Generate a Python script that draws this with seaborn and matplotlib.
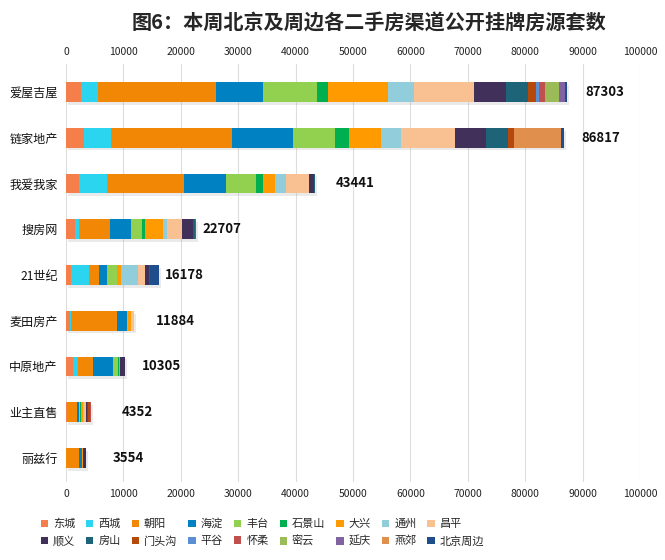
import numpy as np
import pandas as pd
import matplotlib
matplotlib.use('Agg')
import matplotlib.pyplot as plt
import matplotlib.patheffects as pe
from matplotlib.patches import Patch
import seaborn as sns

# Channels (top to bottom) and districts (stack order)
channels = ['爱屋吉屋', '链家地产', '我爱我家', '搜房网', '21世纪', '麦田房产', '中原地产', '业主直售', '丽兹行']
districts = ['东城', '西城', '朝阳', '海淀', '丰台', '石景山', '大兴', '通州', '昌平',
             '顺义', '房山', '门头沟', '平谷', '怀柔', '密云', '延庆', '燕郊', '北京周边']

# listings per district, one list per channel
aiwujiwu = [2610, 3010, 20530, 8190, 9460, 1860, 10500, 4530, 10450, 5520, 3780, 1450, 580, 990, 2440, 1050, 0, 353]
lianjia = [3190, 4650, 21080, 10680, 7320, 2440, 5520, 3540, 9410, 5340, 3890, 1050, 0, 0, 0, 0, 8130, 577]
woaiwojia = [2320, 4760, 13430, 7430, 5110, 1220, 2090, 1920, 4120, 810, 131, 0, 0, 0, 0, 0, 0, 100]
soufang = [1630, 700, 5400, 3660, 1860, 520, 3190, 640, 2670, 1800, 400, 237, 0, 0, 0, 0, 0, 0]
century21 = [870, 3080, 1860, 1390, 1630, 0, 700, 2930, 1280, 700, 170, 0, 0, 0, 0, 0, 0, 1568]
maitian = [750, 100, 7994, 1860, 100, 0, 470, 30, 580, 0, 0, 0, 0, 0, 0, 0, 0, 0]
zhongyuan = [1160, 990, 2490, 3600, 810, 230, 80, 0, 80, 865, 0, 0, 0, 0, 0, 0, 0, 0]
yezhu = [150, 100, 1600, 350, 300, 150, 300, 250, 200, 300, 150, 250, 100, 100, 0, 0, 0, 52]
lizihang = [50, 0, 2300, 450, 50, 0, 60, 0, 0, 500, 0, 0, 0, 0, 0, 0, 0, 144]

colors = ['#F47F4A', '#2BD5F0', '#F28705', '#0081C2', '#92D050', '#00B050', '#FF9A00', '#92CDDC', '#F9C191',
          '#41305A', '#1D6478', '#B5490C', '#5B8ED2', '#C0504D', '#9BBB59', '#8064A2', '#E0904C', '#1F4E8C']

# gap between bar end and total label, in pixels
label_pad_px = [18, 17, 20, 6, 6, 22, 17, 31, 26]

df = pd.DataFrame([aiwujiwu, lianjia, woaiwojia, soufang, century21, maitian, zhongyuan, yezhu, lizihang],
                  index=channels, columns=districts)
cum = df.cumsum(axis=1)
totals = df.sum(axis=1)

sns.set_theme(style='white')
plt.rcParams['font.family'] = ['Noto Sans CJK SC', 'DejaVu Sans']

fig = plt.figure(figsize=(6.65, 5.6), dpi=100)
ax = fig.add_axes([66 / 665, 1 - 482 / 560, (640 - 66) / 665, (482 - 64) / 560])

# stacked bars: draw cumulative totals from outermost to innermost
for i in range(len(districts) - 1, -1, -1):
    sns.barplot(x=cum[districts[i]].values, y=channels, color=colors[i], orient='h',
                width=0.43, saturation=1, ax=ax, order=channels,
                linewidth=0, edgecolor='none')

# soft drop shadow under the full bars
for p in ax.containers[0]:
    p.set_path_effects([pe.SimplePatchShadow(offset=(1.5, -2), shadow_rgbFace='#999999', alpha=0.2), pe.Normal()])

for i, ch in enumerate(channels):
    ax.annotate(f'{totals[ch]}', xy=(totals[ch], i), xytext=(label_pad_px[i], 0),
                textcoords='offset pixels', ha='left', va='center',
                fontsize=9.5, fontweight='bold', color='#111111')

ax.set_xlim(0, 100000)
ax.set_ylim(8.525, -0.612)
ax.set_xticks(np.arange(0, 100001, 10000))
ax.tick_params(axis='x', labeltop=True, top=False, bottom=False, length=0, labelsize=7.5, pad=5, colors='#222222')
ax.tick_params(axis='y', left=False, length=0, labelsize=8.7, pad=6, colors='#111111')
ax.set_xlabel('')
ax.set_ylabel('')
ax.grid(axis='x', color='#dddddd', lw=0.8)
ax.set_axisbelow(True)
for s in ax.spines.values():
    s.set_visible(False)

fig.text(369 / 665, 1 - 23 / 560, '图6：本周北京及周边各二手房渠道公开挂牌房源套数',
         ha='center', va='center', fontsize=14.5, fontweight='bold')

# legend, row-major order
handles = [Patch(facecolor=c, edgecolor='none') for c in colors]
order = [r * 9 + c for c in range(9) for r in range(2)]
fig.legend([handles[k] for k in order], [districts[k] for k in order], ncol=9,
           loc='upper left', bbox_to_anchor=(35 / 665, 1 - 513 / 560), frameon=False,
           fontsize=8, handlelength=0.65, handleheight=0.65, handletextpad=0.45,
           columnspacing=1.0, labelspacing=0.6, borderpad=0)

fig.savefig('out.png', dpi=100)
